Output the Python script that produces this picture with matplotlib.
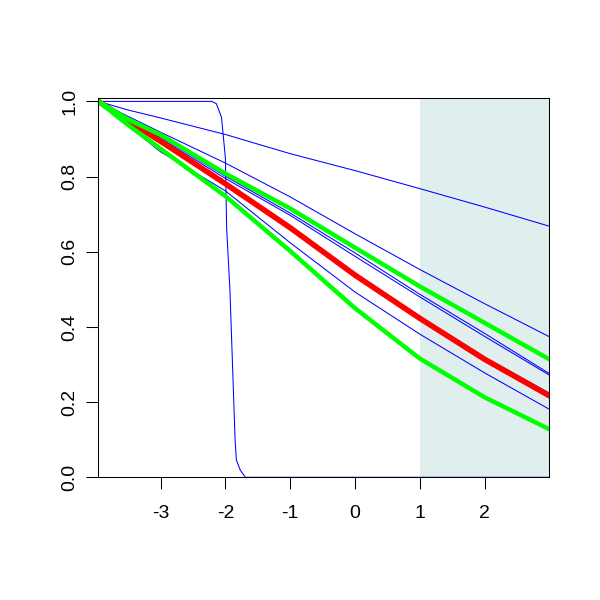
import matplotlib
matplotlib.use('Agg')
import matplotlib.pyplot as plt
import numpy as np

plt.rcParams['font.family'] = ['Liberation Sans', 'DejaVu Sans']

xs = [-3.96, -3.5, -3.0, -2.0, -1.0, 0.0, 1.0, 2.0, 3.0]

# thin blue curves
blue_top = [1.0, 0.977, 0.956, 0.912, 0.861, 0.816, 0.768, 0.719, 0.668]
blue_c = [1.0, 0.960, 0.918, 0.836, 0.746, 0.648, 0.553, 0.462, 0.374]
blue_d = [1.0, 0.953, 0.906, 0.801, 0.703, 0.597, 0.487, 0.383, 0.276]
blue_e = [1.0, 0.952, 0.902, 0.795, 0.697, 0.588, 0.480, 0.375, 0.272]
blue_f = [1.0, 0.949, 0.896, 0.783, 0.667, 0.542, 0.428, 0.320, 0.224]
blue_g = [1.0, 0.935, 0.866, 0.762, 0.624, 0.493, 0.381, 0.278, 0.181]

# steep blue curve
step_x = [-3.96, -2.21, -2.14, -2.06, -2.0, -1.98, -1.93, -1.89, -1.85, -1.83, -1.77, -1.69, 3.0]
step_y = [1.0, 1.0, 0.994, 0.958, 0.85, 0.66, 0.5, 0.3, 0.099, 0.046, 0.019, 0.0, 0.0]

# red estimate and green bounds
red = [1.0, 0.948, 0.894, 0.781, 0.664, 0.538, 0.423, 0.314, 0.217]
green_hi = [1.0, 0.952, 0.911, 0.808, 0.715, 0.611, 0.508, 0.411, 0.314]
green_lo = [1.0, 0.937, 0.874, 0.748, 0.602, 0.450, 0.316, 0.213, 0.128]

shade = (1.0, 3.0)
xticks = [-3, -2, -1, 0, 1, 2]
yticks = [0.0, 0.2, 0.4, 0.6, 0.8, 1.0]

fig = plt.figure(figsize=(6, 6), dpi=100)
ax = fig.add_axes([0.164, 0.2045, 0.7515, 0.6315])

ax.axvspan(shade[0], shade[1], color='#E0EEEE', lw=0, zorder=0)

for ys in [blue_top, blue_c, blue_d, blue_e, blue_f, blue_g]:
    ax.plot(xs, ys, color='#0000FF', lw=0.75, zorder=2)
ax.plot(step_x, step_y, color='#0000FF', lw=0.75, zorder=2)

ax.plot(xs, red, color='#FF0000', lw=4.0, zorder=3, solid_joinstyle='round')
ax.plot(xs, green_hi, color='#00FF00', lw=3.2, zorder=4, solid_joinstyle='round')
ax.plot(xs, green_lo, color='#00FF00', lw=3.2, zorder=4, solid_joinstyle='round')

ax.set_xlim(-3.96, 3.0)
ax.set_ylim(0, 1.008)

ax.set_xticks(xticks)
ax.set_xticklabels([str(t) for t in xticks])
ax.set_yticks(yticks)
ax.set_yticklabels(['%.1f' % t for t in yticks])
ax.tick_params(axis='both', direction='out', length=8.6, width=0.75, labelsize=14, color='black')
ax.tick_params(axis='x', pad=11)
ax.tick_params(axis='y', pad=6)
plt.setp(ax.get_yticklabels(), rotation=90, va='center')

for s in ax.spines.values():
    s.set_linewidth(0.75)
    s.set_zorder(5)

fig.savefig('out.png', dpi=100)
